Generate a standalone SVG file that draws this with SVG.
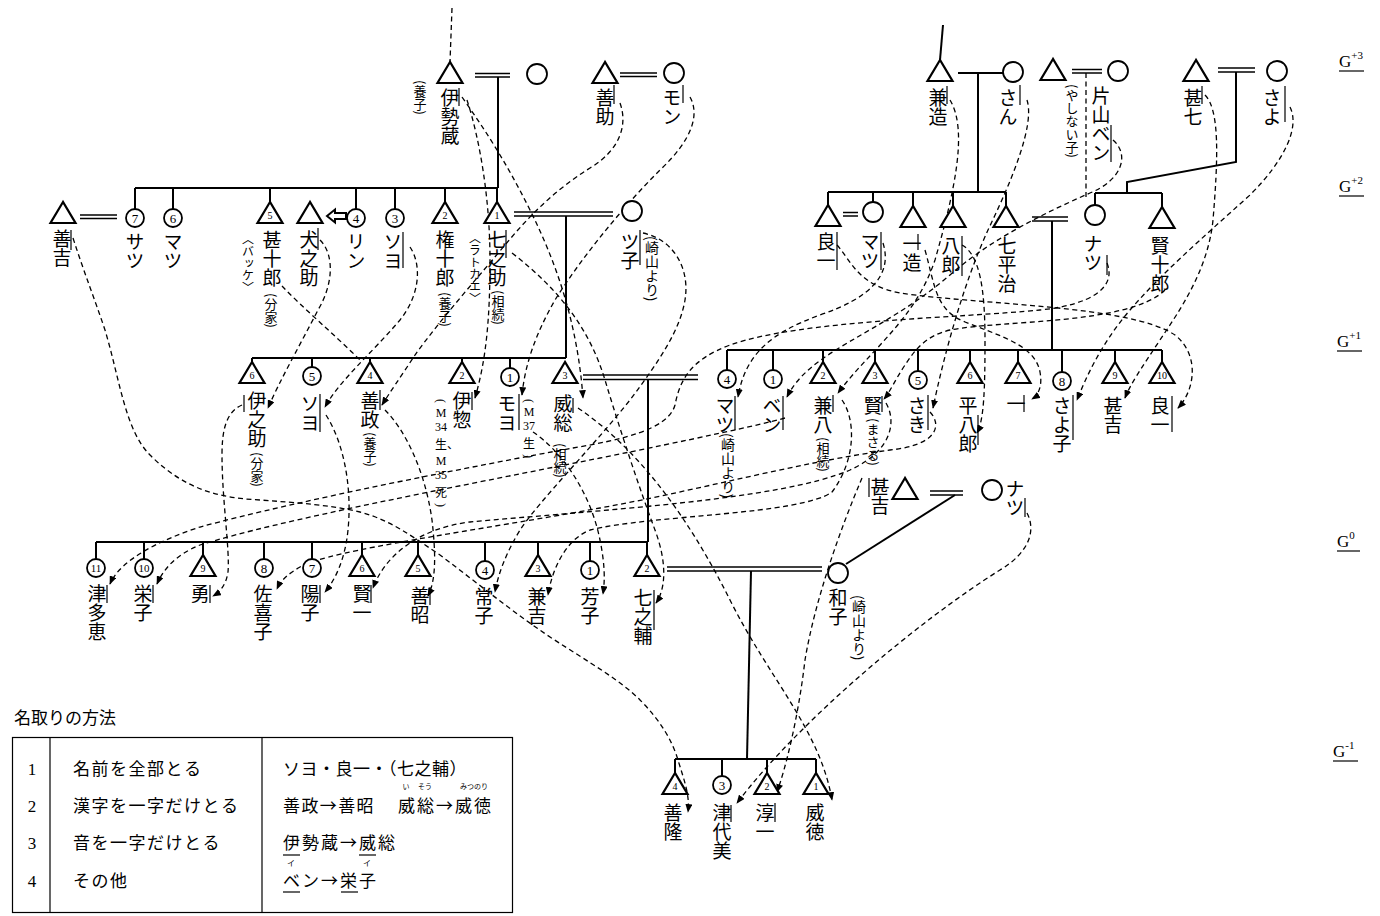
<svg xmlns="http://www.w3.org/2000/svg" width="1380" height="916" viewBox="0 0 1380 916">
<style>
.k{stroke:#000;stroke-width:2;fill:none}
.k2{stroke:#000;stroke-width:1.5;fill:none}
.d{stroke:#000;stroke-width:1.3;fill:none;stroke-dasharray:5 3.5;marker-end:url(#ah)}
.d0{stroke:#000;stroke-width:1.3;fill:none;stroke-dasharray:5 3.5}
.tri{fill:#fff;stroke:#000;stroke-width:2.2}
.cir{fill:#fff;stroke:#000;stroke-width:1.8}
.v{font-family:"Noto Sans CJK JP","Noto Sans CJK SC",sans-serif;font-size:19px;writing-mode:vertical-rl;fill:#000}
.vs{font-size:13px}
.n{font-family:"Liberation Serif",serif;font-size:10px;text-anchor:middle}
.cn{font-family:"Liberation Serif",serif;font-size:13px;text-anchor:middle}
.hn{font-family:"Liberation Serif","Noto Sans CJK JP",serif;font-size:12px;text-anchor:middle}
.hs{font-family:"Liberation Serif","Noto Sans CJK JP",serif;font-size:12px;text-anchor:start}
.mk{stroke:#000;stroke-width:1.2}
.j{font-family:"Noto Sans CJK JP","Noto Sans CJK SC",sans-serif;font-size:17px}
.r{font-family:"Noto Sans CJK JP",sans-serif;font-size:7px;text-anchor:middle}
.g{font-family:"Liberation Serif",serif;font-size:17px}
.gs{font-size:11px}
</style>
<defs>
<marker id="ah" viewBox="0 0 10 8" refX="9" refY="4" markerWidth="9" markerHeight="7" orient="auto" markerUnits="userSpaceOnUse"><path d="M0,0 L10,4 L0,8 z"/></marker>
</defs>
<rect width="1380" height="916" fill="#fff"/>

<!-- ===== solid kinship connectors ===== -->
<g id="kinship">
<line class="d0" x1="452" y1="8" x2="450" y2="62"/>
<line class="k2" x1="475" y1="73.5" x2="510" y2="73.5"/><line class="k2" x1="475" y1="77" x2="510" y2="77"/>
<line class="k" x1="498" y1="77" x2="498" y2="188"/>
<line class="k" x1="135" y1="188" x2="498" y2="188"/>
<line class="k" x1="135" y1="188" x2="135" y2="209"/><line class="k" x1="173" y1="188" x2="173" y2="209"/>
<line class="k" x1="270" y1="188" x2="270" y2="202"/><line class="k" x1="356" y1="188" x2="356" y2="209"/>
<line class="k" x1="395" y1="188" x2="395" y2="209"/><line class="k" x1="445" y1="188" x2="445" y2="202"/>
<line class="k" x1="497" y1="188" x2="497" y2="202"/>
<line class="k2" x1="620" y1="73" x2="657" y2="73"/><line class="k2" x1="620" y1="76.5" x2="657" y2="76.5"/>
<line class="k2" x1="80" y1="215" x2="117" y2="215"/><line class="k2" x1="80" y1="218.5" x2="117" y2="218.5"/>
<path class="k" d="M327,216 L335,209.5 L335,213 L346,213 L346,219 L335,219 L335,222.5 Z" fill="#fff"/>
<line class="k2" x1="514" y1="212" x2="613" y2="212"/><line class="k2" x1="514" y1="216" x2="613" y2="216"/>
<line class="k" x1="566" y1="216" x2="566" y2="358"/>
<line class="k" x1="252" y1="358" x2="566" y2="358"/>
<line class="k" x1="252" y1="358" x2="252" y2="362"/><line class="k" x1="312" y1="358" x2="312" y2="367"/>
<line class="k" x1="370" y1="358" x2="370" y2="362"/><line class="k" x1="462" y1="358" x2="462" y2="362"/>
<line class="k" x1="510" y1="358" x2="510" y2="368"/>
<line class="k" x1="943" y1="25" x2="940" y2="60"/>
<line class="k" x1="958" y1="73" x2="1003" y2="73"/>
<line class="k" x1="978" y1="73" x2="978" y2="192"/>
<line class="k" x1="828" y1="192" x2="1006" y2="192"/>
<line class="k" x1="828" y1="192" x2="828" y2="205"/><line class="k" x1="873" y1="192" x2="873" y2="202"/>
<line class="k" x1="913" y1="192" x2="913" y2="206"/><line class="k" x1="953" y1="192" x2="953" y2="206"/>
<line class="k" x1="1006" y1="192" x2="1006" y2="206"/>
<line class="k2" x1="843" y1="212.5" x2="858" y2="212.5"/><line class="k2" x1="843" y1="216" x2="858" y2="216"/>
<line class="k2" x1="1072" y1="69.5" x2="1102" y2="69.5"/><line class="k2" x1="1072" y1="73" x2="1102" y2="73"/>
<line class="d0" x1="1086" y1="73" x2="1086" y2="200"/>
<line class="k2" x1="1218" y1="68" x2="1255" y2="68"/><line class="k2" x1="1218" y1="72" x2="1255" y2="72"/>
<polyline class="k" points="1236,72 1236,162 1127,182 1127,193"/>
<line class="k" x1="1095" y1="193" x2="1162" y2="193"/>
<line class="k" x1="1095" y1="193" x2="1095" y2="205"/><line class="k" x1="1162" y1="193" x2="1162" y2="207"/>
<line class="k2" x1="1032" y1="217" x2="1068" y2="217"/><line class="k2" x1="1032" y1="221" x2="1068" y2="221"/>
<line class="k" x1="1052" y1="221" x2="1052" y2="350"/>
<line class="k" x1="727" y1="350" x2="1162" y2="350"/>
<line class="k" x1="727" y1="350" x2="727" y2="370"/><line class="k" x1="773" y1="350" x2="773" y2="370"/>
<line class="k" x1="823" y1="350" x2="823" y2="362"/><line class="k" x1="875" y1="350" x2="875" y2="362"/>
<line class="k" x1="918" y1="350" x2="918" y2="371"/><line class="k" x1="970" y1="350" x2="970" y2="362"/>
<line class="k" x1="1018" y1="350" x2="1018" y2="362"/><line class="k" x1="1062" y1="350" x2="1062" y2="372"/>
<line class="k" x1="1115" y1="350" x2="1115" y2="362"/><line class="k" x1="1162" y1="350" x2="1162" y2="362"/>
<line class="k2" x1="583" y1="375" x2="698" y2="375"/><line class="k2" x1="583" y1="379.5" x2="698" y2="379.5"/>
<line class="k" x1="648" y1="380" x2="648" y2="542"/>
<line class="k" x1="96" y1="542" x2="648" y2="542"/>
<line class="k" x1="96" y1="542" x2="96" y2="559"/><line class="k" x1="144" y1="542" x2="144" y2="559"/>
<line class="k" x1="203" y1="542" x2="203" y2="555"/><line class="k" x1="264" y1="542" x2="264" y2="559"/>
<line class="k" x1="312" y1="542" x2="312" y2="559"/><line class="k" x1="362" y1="542" x2="362" y2="555"/>
<line class="k" x1="418" y1="542" x2="418" y2="555"/><line class="k" x1="485" y1="542" x2="485" y2="561"/>
<line class="k" x1="538" y1="542" x2="538" y2="555"/><line class="k" x1="590" y1="542" x2="590" y2="561"/>
<line class="k" x1="647" y1="542" x2="647" y2="555"/>
<line class="k2" x1="930" y1="491" x2="963" y2="491"/><line class="k2" x1="930" y1="495" x2="963" y2="495"/>
<line class="k" x1="955" y1="495" x2="846" y2="564"/>
<line class="k2" x1="667" y1="567" x2="822" y2="567"/><line class="k2" x1="667" y1="571" x2="822" y2="571"/>
<line class="k" x1="751" y1="571" x2="747" y2="759"/>
<line class="k" x1="675" y1="759" x2="816" y2="759"/>
<line class="k" x1="675" y1="759" x2="675" y2="773"/><line class="k" x1="722" y1="759" x2="722" y2="776"/>
<line class="k" x1="767" y1="759" x2="767" y2="773"/><line class="k" x1="816" y1="759" x2="816" y2="773"/>
</g>

<!-- ===== name-taking connectors (dashed) ===== -->
<g id="name-links">
<path class="d" d="M73,238 C85,275 95,300 105,330 C120,380 125,430 150,455 C185,490 220,498 260,500 C300,503 330,505 360,512 C390,520 410,535 440,555 C480,585 510,610 550,637 C590,663 620,680 640,700 C660,720 672,740 678,760 C684,780 690,795 688,812"/>
<path class="d" d="M467,100 C480,140 490,200 490,260 C490,320 486,360 475,398"/>
<path class="d" d="M462,97 C485,130 505,160 530,210 C560,270 578,330 583,398"/>
<path class="d" d="M578,408 C640,450 690,520 730,600 C770,680 820,730 832,800"/>
<path class="d" d="M512,253 C560,290 590,330 605,380 C620,430 640,490 655,530 C668,565 665,590 656,603"/>
<path class="d" d="M620,103 C628,125 620,150 590,168 C555,190 530,215 505,245 C480,275 440,320 415,355 C400,378 390,392 382,405"/>
<path class="d" d="M690,97 C700,115 692,140 660,170 C620,210 580,260 555,300 C535,335 525,365 522,395"/>
<path class="d" d="M643,233 C675,240 690,270 685,300 C680,330 660,360 630,400 C590,450 540,500 520,530 C505,555 498,575 495,592"/>
<path class="d" d="M320,240 C335,255 333,285 318,310 C300,345 280,380 268,408"/>
<path class="d0" d="M282,286 C305,310 335,335 362,362"/>
<path class="d" d="M410,247 C422,265 420,295 400,320 C370,355 340,380 325,407"/>
<path class="d" d="M242,405 C226,412 222,430 222,455 C222,500 230,550 228,572 C226,585 220,592 213,596"/>
<path class="d" d="M326,415 C345,445 352,490 348,530 C345,560 335,580 325,592"/>
<path class="d" d="M385,410 C405,430 425,470 432,520 C436,555 436,580 428,596"/>
<path class="d" d="M1107,263 C1117,288 1090,305 1040,310 C960,318 800,320 730,345 C690,360 680,380 675,405 C668,430 620,440 573,448 C480,465 300,500 200,527 C160,540 120,560 110,584"/>
<path class="d" d="M785,418 C760,425 690,440 600,458 C450,488 280,520 200,545 C175,555 163,570 157,584"/>
<path class="d" d="M930,412 C942,425 938,445 890,450 C800,462 700,490 600,508 C480,530 330,550 300,567 C288,574 281,580 277,589"/>
<path class="d" d="M886,403 C896,420 894,450 850,470 C780,500 600,510 470,522 C420,528 385,555 373,588"/>
<path class="d" d="M842,400 C856,420 856,460 832,492 C800,515 650,515 590,530 C565,540 552,570 548,595"/>
<path class="d" d="M533,432 C560,450 590,490 600,540 C605,565 605,580 603,594"/>
<path class="d" d="M950,100 C968,130 955,190 935,260 C915,320 870,350 838,393"/>
<path class="d" d="M1027,100 C1035,125 1012,180 988,230 C965,280 945,350 933,408"/>
<path class="d" d="M1113,140 C1130,155 1122,180 1090,193 C1040,215 990,240 950,275 C880,335 810,350 787,397"/>
<path class="d" d="M837,245 C852,262 858,285 900,293 C980,305 1130,305 1175,335 C1200,355 1195,390 1178,408"/>
<path class="d" d="M883,243 C893,275 870,298 820,315 C770,333 745,355 738,397"/>
<path class="d" d="M962,245 C980,255 985,290 985,340 C985,390 984,420 977,433"/>
<path class="d" d="M925,250 C935,285 935,310 965,322 C1000,336 1035,345 1040,372 C1043,388 1037,396 1032,399"/>
<path class="d" d="M1290,107 C1300,127 1285,160 1250,195 C1200,240 1160,275 1130,310 C1100,345 1085,380 1077,400"/>
<path class="d" d="M1205,95 C1220,110 1218,160 1213,220 C1208,270 1180,310 1160,340 C1140,370 1130,385 1125,398"/>
<path class="d" d="M1165,290 C1130,325 1000,320 950,330 C925,336 915,350 905,365 C895,380 890,392 884,399"/>
<path class="d" d="M1027,513 C1036,530 1030,552 1000,570 C920,620 800,720 737,803"/>
<path class="d" d="M862,478 C840,530 815,600 805,660 C798,720 785,770 777,792"/>
</g>

<!-- ===== G+3 ===== -->
<g id="n-isezo"><polygon class="tri" points="450,62 437.5,83 462.5,83"/><text class="v" x="450" y="88">伊勢蔵</text><text class="v vs" x="420" y="80">(養子)</text><line class="mk" x1="459" y1="88" x2="459" y2="106"/></g>
<g id="n-isezo-wife"><circle class="cir" cx="537" cy="74" r="10"/></g>
<g id="n-zensuke"><polygon class="tri" points="605,62 592.5,83 617.5,83"/><text class="v" x="605" y="88">善助</text><line class="mk" x1="614" y1="85" x2="614" y2="104"/></g>
<g id="n-mon"><circle class="cir" cx="674" cy="73" r="10"/><text class="v" x="672" y="88">モン</text><line class="mk" x1="683" y1="85" x2="683" y2="103"/></g>
<g id="n-kenzo"><polygon class="tri" points="940,60 927.5,81 952.5,81"/><text class="v" x="938" y="88">兼造</text><line class="mk" x1="947" y1="86" x2="947" y2="104"/></g>
<g id="n-san"><circle class="cir" cx="1013" cy="72" r="10"/><text class="v" x="1008" y="88">さん</text><line class="mk" x1="1020" y1="85" x2="1020" y2="105"/></g>
<g id="n-katayama-husband"><polygon class="tri" points="1053,59 1040.5,80 1065.5,80"/></g>
<g id="n-katayama-ben"><circle class="cir" cx="1118" cy="71" r="10"/><text class="v" x="1101" y="86">片山ベン</text><text class="v vs" x="1072" y="84">(やしない子)</text><line class="mk" x1="1111" y1="125" x2="1111" y2="162"/></g>
<g id="n-jinshichi"><polygon class="tri" points="1196,60 1183.5,81 1208.5,81"/><text class="v" x="1193" y="88">甚七</text><line class="mk" x1="1202" y1="86" x2="1202" y2="104"/></g>
<g id="n-sayo"><circle class="cir" cx="1277" cy="71" r="10"/><text class="v" x="1272" y="88">さよ</text><line class="mk" x1="1285" y1="86" x2="1285" y2="122"/></g>

<!-- ===== G+2 left ===== -->
<g id="n-zenkichi"><polygon class="tri" points="63,202 50.5,223 75.5,223"/><text class="v" x="62" y="229">善吉</text><line class="mk" x1="71" y1="230" x2="71" y2="250"/></g>
<g id="n-satsu"><circle class="cir" cx="135" cy="218" r="9"/><text class="cn" x="135" y="222.5">7</text><text class="v" x="135" y="232">サツ</text></g>
<g id="n-matsu6"><circle class="cir" cx="173" cy="218" r="9"/><text class="cn" x="173" y="222.5">6</text><text class="v" x="173" y="232">マツ</text></g>
<g id="n-jinjuro"><polygon class="tri" points="270,202 257.5,223 282.5,223"/><text class="n" x="270" y="219">5</text><text class="v" x="272" y="230">甚十郎</text><text class="v vs" x="248" y="233" style="font-size:12px">〈バッケ〉</text><text class="v vs" x="271" y="293">(分家)</text></g>
<g id="n-inunosuke"><polygon class="tri" points="310,202 297.5,223 322.5,223"/><text class="v" x="309" y="230">犬之助</text><line class="mk" x1="318" y1="228" x2="318" y2="250"/></g>
<g id="n-rin"><circle class="cir" cx="356" cy="218" r="9"/><text class="cn" x="356" y="222.5">4</text><text class="v" x="356" y="232">リン</text></g>
<g id="n-soyo3"><circle class="cir" cx="395" cy="218" r="9"/><text class="cn" x="395" y="222.5">3</text><text class="v" x="393" y="232">ソヨ</text><line class="mk" x1="403" y1="232" x2="403" y2="268"/></g>
<g id="n-gonjuro"><polygon class="tri" points="445,202 432.5,223 457.5,223"/><text class="n" x="445" y="219">2</text><text class="v" x="445" y="230">権十郎</text><text class="v vs" x="445" y="292">(養子)</text></g>
<g id="n-shichinosuke"><polygon class="tri" points="497,202 484.5,223 509.5,223"/><text class="n" x="497" y="219">1</text><text class="v" x="497" y="230">七之助</text><line class="mk" x1="506" y1="230" x2="506" y2="258"/><text class="v vs" x="475" y="232" style="font-size:12px">〈ラトカエ〉</text><text class="v vs" x="498" y="290">(相続)</text></g>
<g id="n-tsuko"><circle class="cir" cx="632" cy="211" r="10"/><text class="v" x="630" y="232">ツ子</text><line class="mk" x1="640" y1="230" x2="640" y2="265"/><text class="v vs" x="652" y="236" style="font-size:14px">(崎山より)</text></g>

<!-- ===== G+2 right ===== -->
<g id="n-ryoichi-a"><polygon class="tri" points="828,205 815.5,226 840.5,226"/><text class="v" x="826" y="232">良一</text><line class="mk" x1="837" y1="232" x2="837" y2="270"/></g>
<g id="n-matsu-a"><circle class="cir" cx="873" cy="212" r="10"/><text class="v" x="870" y="232">マツ</text><line class="mk" x1="881" y1="232" x2="881" y2="270"/></g>
<g id="n-ichizo"><polygon class="tri" points="913,206 900.5,227 925.5,227"/><text class="v" x="912" y="234">一造</text><line class="mk" x1="918" y1="234" x2="918" y2="250"/></g>
<g id="n-hachiro"><polygon class="tri" points="953,206 940.5,227 965.5,227"/><text class="v" x="951" y="236">八郎</text><line class="mk" x1="962" y1="236" x2="962" y2="276"/></g>
<g id="n-shichiheiji"><polygon class="tri" points="1006,206 993.5,227 1018.5,227"/><text class="v" x="1007" y="236">七平治</text></g>
<g id="n-natsu-a"><circle class="cir" cx="1095" cy="215" r="10"/><text class="v" x="1093" y="234">ナツ</text><line class="mk" x1="1107" y1="255" x2="1107" y2="275"/></g>
<g id="n-kenjuro"><polygon class="tri" points="1162,207 1149.5,228 1174.5,228"/><text class="v" x="1160" y="236">賢十郎</text></g>

<!-- ===== G+1 left ===== -->
<g id="n-inosuke"><polygon class="tri" points="252,362 239.5,383 264.5,383"/><text class="n" x="252" y="379">6</text><text class="v" x="257" y="391">伊之助</text><line class="mk" x1="244" y1="395" x2="244" y2="412"/><text class="v vs" x="257" y="452">(分家)</text></g>
<g id="n-soyo5"><circle class="cir" cx="312" cy="376" r="9"/><text class="cn" x="312" y="380.5">5</text><text class="v" x="310" y="394">ソヨ</text><line class="mk" x1="320" y1="394" x2="320" y2="432"/></g>
<g id="n-zensei"><polygon class="tri" points="370,362 357.5,383 382.5,383"/><text class="n" x="370" y="379">4</text><text class="v" x="370" y="391">善政</text><line class="mk" x1="380" y1="390" x2="380" y2="410"/><text class="v vs" x="370" y="432">(養子)</text></g>
<g id="n-iso"><polygon class="tri" points="462,362 449.5,383 474.5,383"/><text class="n" x="462" y="379">2</text><text class="v" x="462" y="391">伊惣</text><line class="mk" x1="472" y1="392" x2="472" y2="410"/>
<g id="n-iso-note">
<text class="hn" transform="translate(441,401) rotate(90)" dominant-baseline="central">(</text>
<text class="hn" x="441" y="417">M</text>
<text class="hn" x="441" y="431">34</text>
<text class="hs" x="435" y="449">生、</text>
<text class="hn" x="441" y="465">M</text>
<text class="hn" x="441" y="479">35</text>
<text class="hn" x="441" y="497">死</text>
<text class="hn" transform="translate(441,505) rotate(90)" dominant-baseline="central">)</text>
</g></g>
<g id="n-moyo"><circle class="cir" cx="510" cy="377" r="9"/><text class="cn" x="510" y="381.5">1</text><text class="v" x="507" y="394">モヨ</text><line class="mk" x1="519" y1="394" x2="519" y2="430"/>
<g id="n-moyo-note">
<text class="hn" transform="translate(529,401) rotate(90)" dominant-baseline="central">(</text>
<text class="hn" x="529" y="416">M</text>
<text class="hn" x="529" y="430">37</text>
<text class="hn" x="529" y="448">生</text>
<text class="hn" transform="translate(529,456) rotate(90)" dominant-baseline="central">)</text>
</g></g>
<g id="n-isou"><polygon class="tri" points="565,362 552.5,383 577.5,383"/><text class="n" x="565" y="379">3</text><text class="v" x="563" y="394">威総</text><line class="mk" x1="573" y1="398" x2="573" y2="413"/><text class="v vs" x="560" y="443">(相続)</text></g>

<!-- ===== G+1 right ===== -->
<g id="n-matsu4"><circle class="cir" cx="727" cy="379" r="9"/><text class="cn" x="727" y="383.5">4</text><text class="v" x="725" y="396">マツ</text><line class="mk" x1="735" y1="396" x2="735" y2="430"/><text class="v vs" x="728" y="433" style="font-size:14px">(崎山より)</text></g>
<g id="n-ben"><circle class="cir" cx="773" cy="379" r="9"/><text class="cn" x="773" y="383.5">1</text><text class="v" x="772" y="396">ベン</text><line class="mk" x1="783" y1="396" x2="783" y2="430"/></g>
<g id="n-kenpachi"><polygon class="tri" points="823,362 810.5,383 835.5,383"/><text class="n" x="823" y="379">2</text><text class="v" x="823" y="396">兼八</text><line class="mk" x1="833" y1="395" x2="833" y2="412"/><text class="v vs" x="823" y="437">(相続)</text></g>
<g id="n-ken"><polygon class="tri" points="875,362 862.5,383 887.5,383"/><text class="n" x="875" y="379">3</text><text class="v" x="873" y="396">賢</text><line class="mk" x1="882" y1="396" x2="882" y2="412"/><text class="v vs" x="873" y="418">(まさる)</text></g>
<g id="n-saki"><circle class="cir" cx="918" cy="380" r="9"/><text class="cn" x="918" y="384.5">5</text><text class="v" x="917" y="396">さき</text><line class="mk" x1="928" y1="395" x2="928" y2="430"/></g>
<g id="n-heihachiro"><polygon class="tri" points="970,362 957.5,383 982.5,383"/><text class="n" x="970" y="379">6</text><text class="v" x="968" y="396">平八郎</text><line class="mk" x1="978" y1="415" x2="978" y2="445"/></g>
<g id="n-ichi"><polygon class="tri" points="1018,362 1005.5,383 1030.5,383"/><text class="n" x="1018" y="379">7</text><text class="v" x="1016" y="394">一</text><line class="mk" x1="1024" y1="395" x2="1024" y2="412"/></g>
<g id="n-sayoko"><circle class="cir" cx="1062" cy="381" r="9"/><text class="cn" x="1062" y="385.5">8</text><text class="v" x="1062" y="396">さよ子</text><line class="mk" x1="1073" y1="395" x2="1073" y2="440"/></g>
<g id="n-jinkichi-a"><polygon class="tri" points="1115,362 1102.5,383 1127.5,383"/><text class="n" x="1115" y="379">9</text><text class="v" x="1113" y="396">甚吉</text></g>
<g id="n-ryoichi-b"><polygon class="tri" points="1162,362 1149.5,383 1174.5,383"/><text class="n" x="1162" y="379">10</text><text class="v" x="1160" y="396">良一</text><line class="mk" x1="1172" y1="396" x2="1172" y2="432"/></g>

<!-- ===== G0 right ===== -->
<g id="n-jinkichi-b"><polygon class="tri" points="905,478 892.5,499 917.5,499"/><text class="v" x="880" y="477">甚吉</text><line class="mk" x1="869" y1="478" x2="869" y2="497"/></g>
<g id="n-natsu-b"><circle class="cir" cx="992" cy="490" r="10"/><text class="v" x="1015" y="479">ナツ</text><line class="mk" x1="1025" y1="498" x2="1025" y2="517"/></g>

<!-- ===== G0 ===== -->
<g id="n-tsutae"><circle class="cir" cx="96" cy="568" r="9"/><text class="cn" x="96" y="572" style="font-size:11px">11</text><text class="v" x="97" y="584">津多恵</text><line class="mk" x1="107" y1="585" x2="107" y2="603"/></g>
<g id="n-eiko"><circle class="cir" cx="144" cy="568" r="9"/><text class="cn" x="144" y="572" style="font-size:11px">10</text><text class="v" x="143" y="584">栄子</text><line class="mk" x1="153" y1="585" x2="153" y2="603"/></g>
<g id="n-isamu"><polygon class="tri" points="203,555 190.5,576 215.5,576"/><text class="n" x="203" y="572">9</text><text class="v" x="200" y="584">勇</text><line class="mk" x1="210" y1="585" x2="210" y2="603"/></g>
<g id="n-sakiko"><circle class="cir" cx="264" cy="568" r="9"/><text class="cn" x="264" y="572.5">8</text><text class="v" x="263" y="584">佐喜子</text></g>
<g id="n-yoko"><circle class="cir" cx="312" cy="568" r="9"/><text class="cn" x="312" y="572.5">7</text><text class="v" x="310" y="584">陽子</text><line class="mk" x1="320" y1="585" x2="320" y2="603"/></g>
<g id="n-kenichi"><polygon class="tri" points="362,555 349.5,576 374.5,576"/><text class="n" x="362" y="572">6</text><text class="v" x="362" y="584">賢一</text><line class="mk" x1="371" y1="585" x2="371" y2="603"/></g>
<g id="n-zensho"><polygon class="tri" points="418,555 405.5,576 430.5,576"/><text class="n" x="418" y="572">5</text><text class="v" x="420" y="586">善昭</text><line class="mk" x1="430" y1="587" x2="430" y2="605"/></g>
<g id="n-tsuneko"><circle class="cir" cx="485" cy="570" r="9"/><text class="cn" x="485" y="574.5">4</text><text class="v" x="484" y="587">常子</text></g>
<g id="n-kenkichi"><polygon class="tri" points="538,555 525.5,576 550.5,576"/><text class="n" x="538" y="572">3</text><text class="v" x="537" y="587">兼吉</text></g>
<g id="n-yoshiko"><circle class="cir" cx="590" cy="570" r="9"/><text class="cn" x="590" y="574.5">1</text><text class="v" x="590" y="587">芳子</text></g>
<g id="n-shichinosuke2"><polygon class="tri" points="647,555 634.5,576 659.5,576"/><text class="n" x="647" y="572">2</text><text class="v" x="643" y="588">七之輔</text><line class="mk" x1="654" y1="590" x2="654" y2="630"/></g>
<g id="n-kazuko"><circle class="cir" cx="838" cy="573" r="10"/><text class="v" x="838" y="588">和子</text><text class="v vs" x="859" y="595" style="font-size:14px">(崎山より)</text></g>

<!-- ===== G-1 ===== -->
<g id="n-zenryu"><polygon class="tri" points="675,773 662.5,794 687.5,794"/><text class="n" x="675" y="790">4</text><text class="v" x="673" y="803">善隆</text></g>
<g id="n-tsuyomi"><circle class="cir" cx="722" cy="785" r="9"/><text class="cn" x="722" y="789.5">3</text><text class="v" x="722" y="803">津代美</text><line class="mk" x1="731" y1="805" x2="731" y2="822"/></g>
<g id="n-junichi"><polygon class="tri" points="767,773 754.5,794 779.5,794"/><text class="n" x="767" y="790">2</text><text class="v" x="765" y="803">淳一</text><line class="mk" x1="775" y1="803" x2="775" y2="822"/></g>
<g id="n-mitsunori"><polygon class="tri" points="816,773 803.5,794 828.5,794"/><text class="n" x="816" y="790">1</text><text class="v" x="815" y="803">威徳</text></g>

<!-- ===== generation labels ===== -->
<g id="generations">
<text class="g" x="1339" y="67">G<tspan class="gs" dy="-8">+3</tspan></text><line class="mk" x1="1339" y1="71" x2="1364" y2="71"/>
<text class="g" x="1339" y="192">G<tspan class="gs" dy="-8">+2</tspan></text><line class="mk" x1="1339" y1="196" x2="1364" y2="196"/>
<text class="g" x="1337" y="347">G<tspan class="gs" dy="-8">+1</tspan></text><line class="mk" x1="1337" y1="351" x2="1362" y2="351"/>
<text class="g" x="1337" y="547">G<tspan class="gs" dy="-8">0</tspan></text><line class="mk" x1="1337" y1="551" x2="1360" y2="551"/>
<text class="g" x="1333" y="757">G<tspan class="gs" dy="-8">-1</tspan></text><line class="mk" x1="1333" y1="761" x2="1358" y2="761"/>
</g>

<!-- ===== legend ===== -->
<g id="legend">
<text class="j" x="14" y="724">名取りの方法</text>
<rect x="12.5" y="737.5" width="500" height="175" fill="none" stroke="#000" stroke-width="1.2"/>
<line class="mk" x1="50" y1="737.5" x2="50" y2="912.5"/>
<line class="mk" x1="262" y1="737.5" x2="262" y2="912.5"/>
<text class="g" x="32" y="775" text-anchor="middle">1</text>
<text class="g" x="32" y="812" text-anchor="middle">2</text>
<text class="g" x="32" y="849" text-anchor="middle">3</text>
<text class="g" x="32" y="887" text-anchor="middle">4</text>
<text class="j" x="73" y="775" letter-spacing="1.5">名前を全部とる</text>
<text class="j" x="73" y="812" letter-spacing="1.5">漢字を一字だけとる</text>
<text class="j" x="73" y="849" letter-spacing="1.5">音を一字だけとる</text>
<text class="j" x="73" y="887" letter-spacing="1.5">その他</text>
<text class="j" x="283" y="775" letter-spacing="0.5">ソヨ・良一・（七之輔）</text>
<text class="j" x="283" y="812" letter-spacing="1.4">善政→善昭</text>
<text class="j" x="398" y="812" letter-spacing="2">威総→威徳</text>
<text class="r" x="406" y="789">い</text><text class="r" x="425" y="789">そう</text><text class="r" x="474" y="789">みつのり</text>
<text class="j" x="283" y="849" letter-spacing="2">伊勢蔵→威総</text>
<line class="mk" x1="283" y1="855" x2="300" y2="855"/><line class="mk" x1="359" y1="855" x2="376" y2="855"/>
<text class="r" x="291" y="866" style="font-size:8px">イ</text><text class="r" x="367" y="866" style="font-size:8px">イ</text>
<text class="j" x="283" y="887" letter-spacing="2">ベン→栄子</text>
<line class="mk" x1="283" y1="892" x2="300" y2="892"/><line class="mk" x1="341" y1="892" x2="358" y2="892"/>
</g>
</svg>
